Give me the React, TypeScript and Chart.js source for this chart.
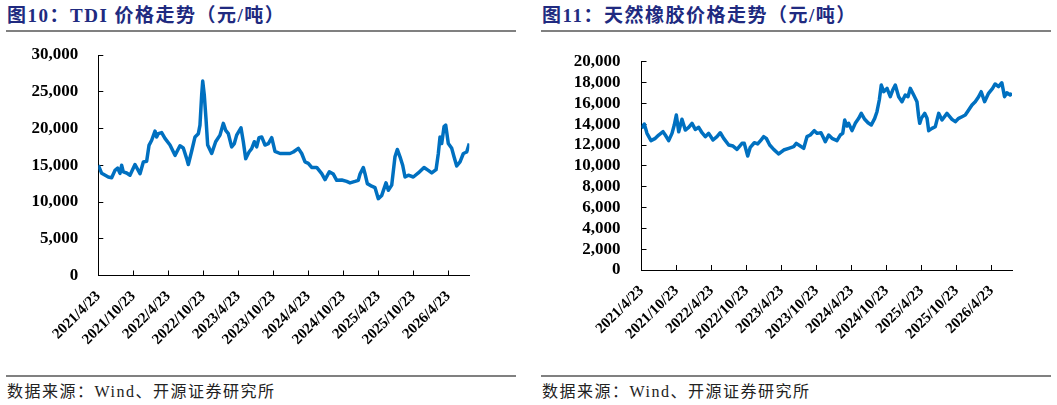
import { useEffect, useRef } from 'react';
import { Chart, registerables } from 'chart.js';

Chart.register(...registerables);

// x axis: months since 2021/4/23, labelled every 6 months
const xTickMonths = [0, 6, 12, 18, 24, 30, 36, 42, 48, 54, 60];
const xTickLabels = [
  '2021/4/23', '2021/10/23', '2022/4/23', '2022/10/23', '2023/4/23', '2023/10/23',
  '2024/4/23', '2024/10/23', '2025/4/23', '2025/10/23', '2026/4/23',
];

// 图10 TDI price (元/吨)
const tdiMonths = [
  0, 0.58, 1.71, 2.29, 2.86, 3.32, 3.72, 4.0, 4.29, 4.86, 5.43, 6.29, 7.15, 7.72, 8.29, 8.69,
  9.15, 9.72, 10.0, 10.29, 10.86, 11.43, 12.29, 13.15, 14.0, 14.57, 15.15, 15.43, 16.0, 16.58,
  17.15, 17.43, 17.72, 17.9, 18.17, 18.46, 18.75, 19.44, 20.12, 20.86, 21.43, 21.84, 22.29,
  22.86, 23.32, 23.72, 24.46, 24.86, 25.27, 25.84, 26.29, 26.75, 27.15, 27.55, 28.01, 28.58,
  29.15, 29.73, 30.29, 31.15, 32.0, 32.86, 33.43, 34.29, 34.87, 35.44, 36.0, 36.58, 37.44,
  38.3, 38.87, 39.6, 40.29, 40.87, 41.73, 42.58, 43.15, 44.01, 44.57, 44.87, 45.43, 45.72,
  46.12, 46.87, 47.44, 48.0, 48.59, 49.32, 49.72, 50.3, 50.86, 51.26, 51.72, 52.18, 52.58,
  53.15, 54.0, 54.86, 55.84, 56.57, 57.16, 57.9, 58.29, 58.58, 58.87, 59.27, 59.56, 60.0,
  60.59, 60.98, 61.44, 62.01, 62.58, 63.15, 63.6,
];
const tdiPrices = [
  15000, 13900, 13400, 13300, 14300, 14600, 13900, 15000, 14100, 13950, 13650, 15100, 13850,
  15450, 15550, 17700, 18400, 19650, 18850, 19300, 19450, 18650, 17750, 16350, 17650, 17350,
  15900, 15100, 16900, 18850, 19300, 20450, 24550, 26450, 24550, 21350, 17750, 16600, 18200,
  19100, 20700, 19750, 19300, 17500, 17950, 19100, 20100, 18200, 15900, 16800, 17250, 18200,
  17500, 18750, 18850, 17750, 17950, 18750, 16900, 16600, 16600, 16600, 16800, 17300, 16600,
  15450, 15250, 14700, 14700, 13850, 13050, 14100, 13800, 12950, 13000, 12800, 12600, 12800,
  12950, 13800, 14700, 13850, 12500, 12150, 11950, 10450, 10900, 12600, 11600, 12300, 16150,
  17150, 16150, 15000, 13400, 13650, 13400, 13950, 14700, 14300, 13950, 14400, 16600, 18850,
  17950, 20250, 20450, 17950, 17300, 16150, 14900, 15450, 16600, 16800, 17950,
];

// 图11 natural rubber price (元/吨)
const rubberMonths = [
  0, 0.48, 0.94, 1.63, 2.37, 2.95, 3.69, 4.08, 4.66, 5.23, 5.62, 5.97, 6.38, 6.94, 7.51, 8.09,
  8.66, 9.22, 9.81, 10.37, 10.94, 11.52, 12.26, 12.94, 13.51, 14.09, 14.95, 15.69, 16.37,
  17.23, 17.62, 18.21, 18.65, 19.34, 19.92, 20.49, 20.95, 21.4, 21.98, 22.66, 23.52, 24.38,
  25.24, 26.09, 26.54, 27.22, 27.81, 28.37, 28.94, 29.62, 30.09, 30.77, 31.24, 31.51, 32.09,
  32.66, 33.51, 34.08, 34.5, 34.84, 35.23, 35.52, 36.09, 36.65, 37.24, 37.68, 38.27, 38.83,
  39.4, 39.98, 40.37, 40.77, 41.11, 41.52, 42.09, 42.65, 43.07, 43.51, 44.09, 44.66, 45.22,
  45.69, 46.08, 46.67, 47.23, 47.52, 47.7, 47.97, 48.55, 48.95, 49.24, 49.8, 50.37, 50.95,
  51.52, 52.37, 53.23, 53.8, 54.38, 54.95, 55.51, 56.09, 56.66, 57.22, 57.8, 58.24, 58.82,
  59.5, 60.19, 60.63, 61.21, 61.78, 62.24, 62.64, 63.21, 63.52,
];
const rubberPrices = [
  13600, 14020, 13120, 12420, 12640, 12960, 13280, 12960, 12420, 13120, 13920, 14880, 13280,
  14470, 13440, 13700, 14080, 13500, 13700, 13180, 12800, 13120, 12480, 12800, 13180, 12640,
  12000, 11900, 11580, 12160, 12160, 10940, 11780, 12220, 12100, 12480, 12800, 12640, 12000,
  11580, 11140, 11520, 11680, 11840, 12160, 11900, 11680, 12800, 12960, 13380, 13120, 13180,
  12640, 12320, 12960, 12640, 12420, 12960, 13120, 14400, 13820, 14080, 13380, 14080, 14560,
  15040, 14470, 14140, 13920, 14560, 15200, 16320, 17760, 17120, 17440, 16640, 17280, 17760,
  16640, 16160, 16800, 16640, 17440, 16800, 16160, 14720, 14080, 14560, 15040, 14560, 13380,
  13600, 13760, 15040, 14400, 15040, 14470, 14240, 14560, 14720, 14880, 15360, 15840, 16160,
  16640, 17120, 16160, 16960, 17440, 17860, 17600, 17980, 16640, 17020, 16800, 16960,
];

const FONT = "'Liberation Serif', 'Times New Roman', 'Noto Sans CJK SC', serif";

type TrendProps = {
  months: number[];
  prices: number[];
  yMax: number;
  yStep: number;
  xMax: number;
  width: number;
  height: number;
  axisWidth: number;
  padTop: number;
  padRight: number;
  xAxisHeight: number;
  labelGap: number;
};

function TrendChart(p: TrendProps) {
  const canvasRef = useRef<HTMLCanvasElement>(null);

  useEffect(() => {
    if (!canvasRef.current) return;
    const chart = new Chart(canvasRef.current, {
      type: 'line',
      data: {
        datasets: [
          {
            data: p.months.map((m, i) => ({ x: m, y: p.prices[i] })),
            borderColor: '#0070c0',
            borderWidth: 3.5,
            borderJoinStyle: 'round',
            pointRadius: 0,
            tension: 0,
            fill: false,
          },
        ],
      },
      options: {
        responsive: false,
        animation: false,
        layout: { padding: { top: p.padTop, right: p.padRight, left: 0, bottom: 0 } },
        plugins: { legend: { display: false }, tooltip: { enabled: false } },
        scales: {
          x: {
            type: 'linear',
            min: 0,
            max: p.xMax,
            afterBuildTicks: (axis) => {
              axis.ticks = xTickMonths.map((v) => ({ value: v }));
            },
            afterFit: (axis) => {
              axis.height = p.xAxisHeight;
            },
            grid: { drawOnChartArea: false, tickLength: -5, color: '#000' },
            border: { color: '#000', width: 1 },
            ticks: {
              autoSkip: false,
              maxRotation: 45,
              minRotation: 45,
              padding: 17,
              color: '#000',
              font: { family: FONT, size: 15, weight: 'bold' },
              callback: (v) => xTickLabels[xTickMonths.indexOf(Number(v))] ?? '',
            },
          },
          y: {
            min: 0,
            max: p.yMax,
            afterFit: (axis) => {
              axis.width = p.axisWidth;
              // the big label gap must not push the plot area down
              axis.paddingTop = 0;
              axis.paddingBottom = 0;
            },
            grid: { drawOnChartArea: false, tickLength: -5, color: '#000' },
            border: { color: '#000', width: 1 },
            ticks: {
              stepSize: p.yStep,
              autoSkip: false,
              padding: p.labelGap + 5,
              color: '#000',
              font: { family: FONT, size: 17, weight: 'bold' },
              callback: (v) => Number(v).toLocaleString('en-US'),
            },
          },
        },
      },
    });
    return () => chart.destroy();
  }, [p]);

  return <canvas ref={canvasRef} width={p.width} height={p.height} style={{ width: p.width, height: p.height, display: 'block' }} />;
}

const tdiProps: TrendProps = {
  months: tdiMonths, prices: tdiPrices, yMax: 30000, yStep: 5000, xMax: 63.6,
  width: 520, height: 330, axisWidth: 98.3, padTop: 15, padRight: 50.7, xAxisHeight: 94.5, labelGap: 20,
};
const rubberProps: TrendProps = {
  months: rubberMonths, prices: rubberPrices, yMax: 20000, yStep: 2000, xMax: 63.52,
  width: 529, height: 330, axisWidth: 106.5, padTop: 21.7, padRight: 52, xAxisHeight: 100, labelGap: 21,
};

function Panel({ left, title, chart }: { left: number; title: string; chart: TrendProps }) {
  return (
    <div style={{ position: 'absolute', left, top: 0, width: 522, height: 405 }}>
      <div style={{ position: 'absolute', left: 7, top: 3, fontFamily: FONT, fontWeight: 'bold', fontSize: 19, letterSpacing: 1.5, color: '#202a80', whiteSpace: 'nowrap', lineHeight: '26px' }}>
        {title}
      </div>
      <div style={{ position: 'absolute', left: 6, top: 30, width: 510, height: 2, background: '#808080' }} />
      <div style={{ position: 'absolute', left: 0, top: 40 }}>
        <TrendChart {...chart} />
      </div>
      <div style={{ position: 'absolute', left: 6, top: 375, width: 510, height: 1.5, background: '#808080' }} />
      <div style={{ position: 'absolute', left: 7, top: 380, fontFamily: FONT, fontSize: 16, letterSpacing: 1.5, color: '#222', whiteSpace: 'nowrap', lineHeight: '24px' }}>
        数据来源：Wind、开源证券研究所
      </div>
    </div>
  );
}

export default function App() {
  return (
    <div style={{ position: 'fixed', left: 0, top: 0, width: 1057, height: 405, background: '#fff', overflow: 'hidden' }}>
      <Panel left={0} title="图10：TDI 价格走势（元/吨）" chart={tdiProps} />
      <Panel left={535} title="图11：天然橡胶价格走势（元/吨）" chart={rubberProps} />
    </div>
  );
}
